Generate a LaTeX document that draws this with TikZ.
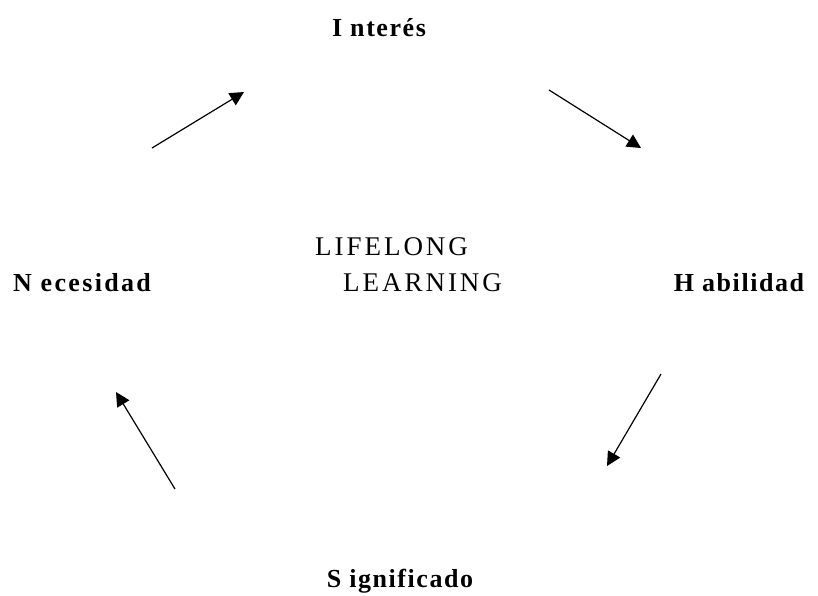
\documentclass[tikz,border=0pt]{standalone}
\usepackage{fontspec}
\setmainfont{Liberation Serif}
\newfontfamily\lblfont[LetterSpace=6]{Liberation Serif}
\newfontfamily\midfont[LetterSpace=11]{Liberation Serif}
\usetikzlibrary{arrows.meta}
\begin{document}
\begin{tikzpicture}[x=1pt,y=-1pt,
  lbl/.style={font=\lblfont\fontsize{26}{30}\selectfont\bfseries, inner sep=0pt, anchor=base},
  mid/.style={font=\midfont\fontsize{27}{30}\selectfont, inner sep=0pt, anchor=base west},
  arr/.style={line width=1.2pt, -{Triangle[length=14pt,width=14pt]}}]
\useasboundingbox (0,0) rectangle (818,595);
\node[lbl] (int) at (379,36) {I nterés};
\node[lbl] (hab) at (739,291) {H abilidad};
\node[lbl] (sig) at (400,587) {S ignificado};
\node[lbl] (nec) at (82,291) {\addfontfeature{LetterSpace=9}N ecesidad};
\node[mid] (l1) at (315,255) {LIFELONG};
\node[mid] (l2) at (343,291) {LEARNING};
\coordinate (a1s) at (152,148); \coordinate (a1e) at (244,92);
\coordinate (a2s) at (549,90); \coordinate (a2e) at (641,148);
\coordinate (a3s) at (661,374); \coordinate (a3e) at (607,466);
\coordinate (a4s) at (175,489); \coordinate (a4e) at (116,392);
\draw[arr] (a1s) -- (a1e);
\draw[arr] (a2s) -- (a2e);
\draw[arr] (a3s) -- (a3e);
\draw[arr] (a4s) -- (a4e);
\end{tikzpicture}
\end{document}
